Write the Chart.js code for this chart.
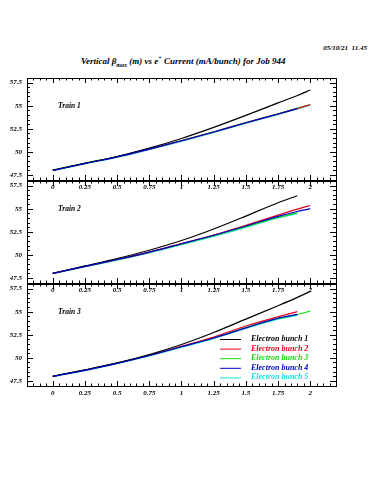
<!DOCTYPE html>
<html lang="en">
<head>
<meta charset="UTF-8">
<title>Vertical beta vs e+ current - Job 944</title>
<script src="https://cdn.jsdelivr.net/npm/chart.js"></script>
<style>
  body { margin: 0; background: #fff; }
  #page { position: relative; width: 375px; height: 500px; overflow: hidden; }
  canvas { position: absolute; left: 0; top: 0; }
  .txt { position: absolute; font-family: "Liberation Serif", serif; font-weight: bold; font-style: italic; color: #000; white-space: nowrap; line-height: 1; }
  .txt sub, .txt sup { font-size: 6px; }
</style>
</head>
<body>
<div id="page">
  <div class="txt" style="right:8px; top:45px; font-size:7px;">05/10/21 &nbsp;11.45</div>
  <div class="txt" style="left:81px; top:55px; font-size:9px;">Vertical &beta;<sub>max</sub> (m) vs e<sup>+</sup> Current (mA/bunch) for Job 944</div>
  <canvas id="train1" width="375" height="500"></canvas>
  <canvas id="train2" width="375" height="500"></canvas>
  <canvas id="train3" width="375" height="500"></canvas>
</div>
<script>
// current (mA/bunch)
const currents = [0, 0.25, 0.5, 0.75, 1, 1.25, 1.5, 1.75, 1.9, 2];
const xTicks = [0, 0.25, 0.5, 0.75, 1, 1.25, 1.5, 1.75, 2];
const xTickLabels = ['0', '0.25', '0.5', '0.75', '1', '1.25', '1.5', '1.75', '2'];
const yTicks = [47.5, 50, 52.5, 55, 57.5];
const yTickLabels = ['47.5', '50', '52.5', '55', '57.5'];

const bunchNames = ['Electron bunch 1', 'Electron bunch 2', 'Electron bunch 3', 'Electron bunch 4', 'Electron bunch 5'];
const bunchColors = ['#000000', '#e8001c', '#12dc12', '#0000c8', '#19e3e3'];
const trainNames = ['Train 1', 'Train 2', 'Train 3'];

// Train 1
const t1b1 = [48.0, 48.75, 49.5, 50.4, 51.45, 52.65, 53.95, 55.3, 56.1, 56.7];
const t1b2 = [48.0, 48.75, 49.45, 50.3, 51.2, 52.15, 53.15, 54.1, 54.7, 55.1];
const t1b3 = [48.03, 48.78, 49.48, 50.33, 51.23, 52.18, 53.18, 54.13, 54.73, 55.12];
const t1b4 = [48.0, 48.75, 49.45, 50.3, 51.2, 52.15, 53.15, 54.1, 54.68, null];
const t1b5 = [47.95, 48.7, 49.4, 50.24, 51.14, 52.09, 53.09, 54.04, 54.64, 55.05];

// Train 2
const t2b1 = [48.0, 48.8, 49.6, 50.5, 51.55, 52.8, 54.2, 55.65, 56.4, null];
const t2b2 = [48.0, 48.75, 49.5, 50.3, 51.22, 52.15, 53.2, 54.3, 54.95, 55.35];
const t2b3 = [48.0, 48.74, 49.47, 50.27, 51.16, 52.07, 53.05, 54.06, 54.55, null];
const t2b4 = [48.0, 48.75, 49.5, 50.3, 51.2, 52.12, 53.12, 54.17, 54.7, 55.0];
const t2b5 = [47.96, 48.7, 49.43, 50.22, 51.1, 52.0, 52.98, 54.0, 54.45, null];

// Train 3
const t3b1 = [48.0, 48.7, 49.45, 50.35, 51.45, 52.75, 54.2, 55.65, 56.55, 57.2];
const t3b2 = [48.0, 48.68, 49.42, 50.28, 51.25, 52.25, 53.45, 54.45, 55.0, null];
const t3b3 = [48.02, 48.68, 49.42, 50.27, 51.22, 52.17, 53.27, 54.27, 54.7, 55.07];
const t3b4 = [48.0, 48.65, 49.4, 50.25, 51.2, 52.15, 53.25, 54.3, 54.7, null];
const t3b5 = [47.96, 48.61, 49.36, 50.2, 51.14, 52.09, 53.18, 54.2, 54.6, null];

const trains = [
    [t1b1, t1b2, t1b3, t1b4, t1b5],
    [t2b1, t2b2, t2b3, t2b4, t2b5],
    [t3b1, t3b2, t3b3, t3b4, t3b5]
];

// panel placement (chart area top / bottom, in px)
const panelTops = [78, 181, 284];
const panelBottoms = [180, 283, 386];
// drawing order: blue on top, cyan underneath
const drawOrder = [1, 2, 3, 0, 4];

const labelFont = { family: 'Liberation Serif', size: 7, weight: 'bold', style: 'italic' };

// frame with inward tick marks, like the old PAW plots
const frameTicks = {
    id: 'frameTicks',
    afterDraw(chart) {
        const ctx = chart.ctx;
        const a = chart.chartArea;
        const x = chart.scales.x;
        const y = chart.scales.y;
        ctx.save();
        ctx.strokeStyle = '#000';
        ctx.lineWidth = 1;
        ctx.strokeRect(Math.round(a.left) + 0.5, Math.round(a.top) + 0.5, Math.round(a.width), Math.round(a.height));
        ctx.beginPath();
        for (let i = -4; i <= 44; i++) {
            const px = Math.round(x.getPixelForValue(i * 0.05)) + 0.5;
            const len = i % 5 === 0 ? 5 : 2.5;
            ctx.moveTo(px, a.top); ctx.lineTo(px, a.top + len);
            ctx.moveTo(px, a.bottom); ctx.lineTo(px, a.bottom - len);
        }
        for (let i = 0; i <= 22; i++) {
            const v = 47 + i * 0.5;
            const py = Math.round(y.getPixelForValue(v)) + 0.5;
            const len = (i - 1) % 5 === 0 ? 6 : 3;
            ctx.moveTo(a.left, py); ctx.lineTo(a.left + len, py);
            ctx.moveTo(a.right, py); ctx.lineTo(a.right - len, py);
        }
        ctx.stroke();

        // train label
        ctx.font = 'italic bold 7.5px "Liberation Serif"';
        ctx.fillStyle = '#000';
        ctx.textBaseline = 'middle';
        ctx.fillText(chart.options.trainName, a.left + 31, a.top + 28);

        // legend only on the last panel
        if (chart.options.showKey) {
            ctx.font = 'italic bold 8px "Liberation Serif"';
            ctx.lineWidth = 1;
            for (let i = 0; i < bunchNames.length; i++) {
                const ly = 339 + i * 9.6;
                ctx.strokeStyle = bunchColors[i];
                ctx.beginPath();
                ctx.moveTo(220, ly + 0.5); ctx.lineTo(241, ly + 0.5);
                ctx.stroke();
                ctx.fillStyle = bunchColors[i];
                ctx.fillText(bunchNames[i], 251, ly);
            }
        }
        ctx.restore();
    }
};

function gerarPainel(idx) {
    const datasets = [];
    for (let b = 0; b < bunchNames.length; b++) {
        const pts = [];
        for (let i = 0; i < currents.length; i++) {
            if (trains[idx][b][i] !== null) {
                pts.push({ x: currents[i], y: trains[idx][b][i] });
            }
        }
        datasets.push({
            label: bunchNames[b],
            data: pts,
            borderColor: bunchColors[b],
            borderWidth: 1.2,
            pointRadius: 0,
            fill: false,
            cubicInterpolationMode: 'monotone',
            order: drawOrder[b]
        });
    }

    new Chart(document.getElementById('train' + (idx + 1)), {
        type: 'line',
        data: { datasets: datasets },
        options: {
            responsive: false,
            animation: false,
            devicePixelRatio: 1,
            trainName: trainNames[idx],
            showKey: idx === 2,
            layout: { padding: { top: panelTops[idx], bottom: 500 - panelBottoms[idx] - 14, left: 0, right: 39 } },
            plugins: { legend: { display: false }, tooltip: { enabled: false } },
            scales: {
                x: {
                    type: 'linear',
                    min: -0.2,
                    max: 2.2,
                    grid: { display: false, drawTicks: false },
                    border: { display: false },
                    afterBuildTicks: s => { s.ticks = xTicks.map(v => ({ value: v })); },
                    afterFit: s => { s.height = 14; },
                    ticks: {
                        autoSkip: false,
                        maxRotation: 0,
                        padding: 3,
                        color: '#000',
                        font: labelFont,
                        callback: (v, i) => xTickLabels[i]
                    }
                },
                y: {
                    min: 46.95,
                    max: 58.0,
                    grid: { display: false, drawTicks: false },
                    border: { display: false },
                    afterBuildTicks: s => { s.ticks = yTicks.map(v => ({ value: v })); },
                    afterFit: s => { s.width = 27; },
                    ticks: {
                        padding: 5,
                        color: '#000',
                        font: labelFont,
                        callback: (v, i) => yTickLabels[i]
                    }
                }
            }
        },
        plugins: [frameTicks]
    });
}

gerarPainel(0);
gerarPainel(1);
gerarPainel(2);
</script>
</body>
</html>
